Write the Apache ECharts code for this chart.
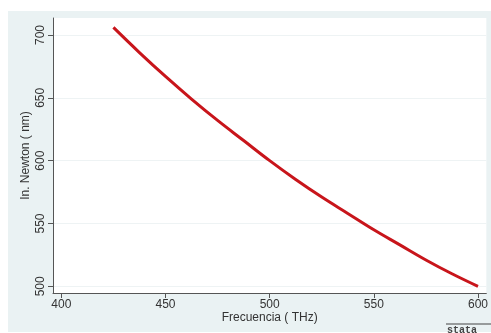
<!DOCTYPE html>
<html>
<head>
<meta charset="utf-8">
<script src="https://cdn.jsdelivr.net/npm/echarts@6/dist/echarts.min.js"></script>
<style>
  html, body { margin: 0; padding: 0; background: #fff; }
  #chart { width: 491px; height: 333px; }
</style>
</head>
<body>
<div id="chart"></div>
<script>
// frecuencia (THz) y longitud de onda (nm)
const freq = [425, 437.5, 450, 462.5, 475, 487.5, 500, 512.5, 525, 537.5, 550, 562.5, 575, 587.5, 600];
const lambda = [706, 686, 667, 649, 632, 616, 600, 585, 571, 558, 545, 533, 521, 510, 500];
const xTicks = [400, 450, 500, 550, 600];
const yTicks = [500, 550, 600, 650, 700];

const chart = echarts.init(document.getElementById('chart'));

const axisText = { color: '#333', fontSize: 12, fontFamily: 'Liberation Sans, Arial, sans-serif' };

chart.setOption({
  backgroundColor: '#fff',
  animation: false,
  graphic: [
    { type: 'rect', z: -10, shape: { x: 8, y: 11, width: 483, height: 321 }, style: { fill: '#eaf2f3' } },
    { type: 'line', shape: { x1: 446, y1: 324, x2: 491, y2: 324 }, style: { stroke: '#444', lineWidth: 1 } },
    { type: 'text', left: 447, top: 325, style: { text: 'stata', fill: '#444', font: 'bold 10px Liberation Mono', letterSpacing: 1 } }
  ],
  grid: {
    left: 53, right: 3, top: 18, bottom: 40,
    show: true, backgroundColor: '#fff', borderWidth: 0
  },
  xAxis: {
    type: 'value',
    min: 396, max: 604,
    name: 'Frecuencia ( THz)',
    nameLocation: 'middle',
    nameGap: 19,
    nameMoveOverlap: false,
    nameTextStyle: axisText,
    axisLine: { show: true, lineStyle: { color: '#555', width: 1 } },
    axisTick: { show: true, length: 5, lineStyle: { color: '#555' }, customValues: xTicks },
    axisLabel: { ...axisText, margin: 6, customValues: xTicks },
    splitLine: { show: false }
  },
  yAxis: {
    type: 'value',
    min: 494.7, max: 713.5,
    name: 'In. Newton ( nm)',
    nameLocation: 'middle',
    nameGap: 21,
    nameMoveOverlap: false,
    nameTextStyle: axisText,
    axisLine: { show: true, lineStyle: { color: '#555', width: 1 } },
    axisTick: { show: true, length: 5, lineStyle: { color: '#555' }, customValues: yTicks },
    axisLabel: { ...axisText, rotate: 90, margin: 6, customValues: yTicks },
    splitLine: { show: true, lineStyle: { color: '#eef3f4', width: 1 } }
  },
  series: [{
    type: 'line',
    data: freq.map((f, i) => [f, lambda[i]]),
    smooth: 0.4,
    showSymbol: false,
    lineStyle: { color: '#c8151b', width: 3 }
  }]
});
</script>
</body>
</html>
